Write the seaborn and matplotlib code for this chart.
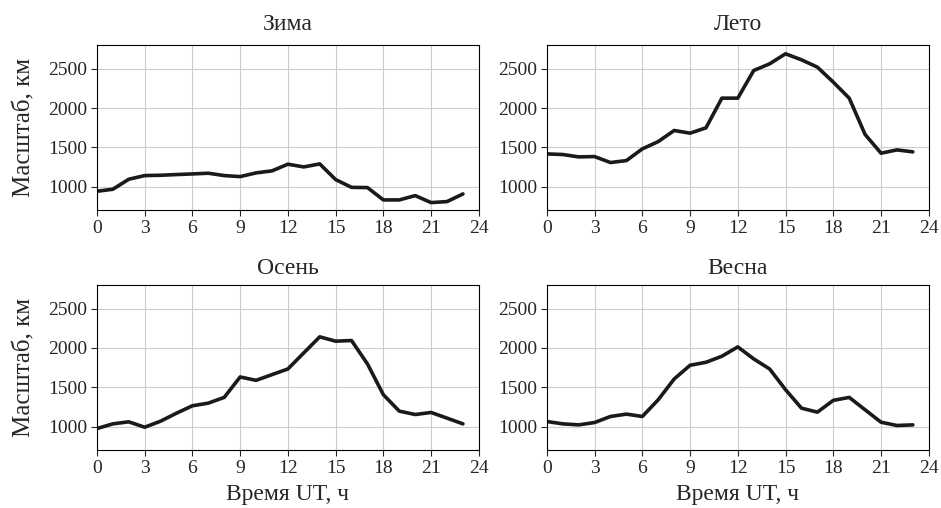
import pandas as pd
import matplotlib.pyplot as plt
import seaborn as sns

# hourly scale values, km
hours = list(range(24))
winter = [940, 966, 1093, 1140, 1144, 1153, 1161, 1170, 1140, 1127, 1174, 1200,
          1285, 1250, 1289, 1089, 990, 987, 830, 830, 885, 796, 809, 906]
summer = [1416, 1408, 1378, 1382, 1306, 1331, 1480, 1573, 1714, 1680, 1748, 2126,
          2126, 2478, 2563, 2691, 2614, 2521, 2330, 2126, 1663, 1425, 1467, 1442]
autumn = [974, 1034, 1060, 991, 1068, 1170, 1264, 1298, 1371, 1631, 1588, 1661,
          1733, 1938, 2142, 2087, 2095, 1797, 1405, 1196, 1153, 1179, 1107, 1034]
spring = [1064, 1034, 1021, 1051, 1128, 1158, 1128, 1341, 1605, 1780, 1818, 1895,
          2014, 1861, 1733, 1469, 1234, 1183, 1333, 1371, 1213, 1055, 1013, 1021]

titles = ['Зима', 'Лето', 'Осень', 'Весна']
series = [winter, summer, autumn, spring]
xticks = [0, 3, 6, 9, 12, 15, 18, 21, 24]
yticks = [1000, 1500, 2000, 2500]

sns.set_style('ticks')
plt.rcParams['font.family'] = ['Liberation Serif', 'DejaVu Serif']
plt.rcParams['font.size'] = 14

fig, axes = plt.subplots(2, 2, figsize=(9.41, 5.08), dpi=100)
plt.subplots_adjust(left=0.103, right=0.987, top=0.911, bottom=0.114,
                    wspace=0.178, hspace=0.455)

for i, (ax, title, vals) in enumerate(zip(axes.flat, titles, series)):
    df = pd.DataFrame({'hour': hours, 'value': vals})
    sns.lineplot(data=df, x='hour', y='value', ax=ax, color='#1a1a1a', linewidth=2.6)
    ax.set_xlim(0, 24)
    ax.set_ylim(700, 2800)
    ax.set_xticks(xticks)
    ax.set_yticks(yticks)
    ax.grid(True, color='#cccccc', linewidth=0.8)
    ax.set_axisbelow(True)
    ax.set_title(title, fontsize=17, pad=11 if i < 2 else 8)
    ax.set_xlabel('')
    ax.set_ylabel('')
    ax.tick_params(direction='out', length=4, width=0.8, labelsize=14, pad=3)
    for s in ax.spines.values():
        s.set_linewidth(0.8)
        s.set_color('black')

for ax in axes[:, 0]:
    ax.set_ylabel('Масштаб, км', fontsize=18, labelpad=9)
for ax in axes[1, :]:
    ax.set_xlabel('Время UT, ч', fontsize=17, labelpad=5)

plt.savefig('out.png', dpi=100)
